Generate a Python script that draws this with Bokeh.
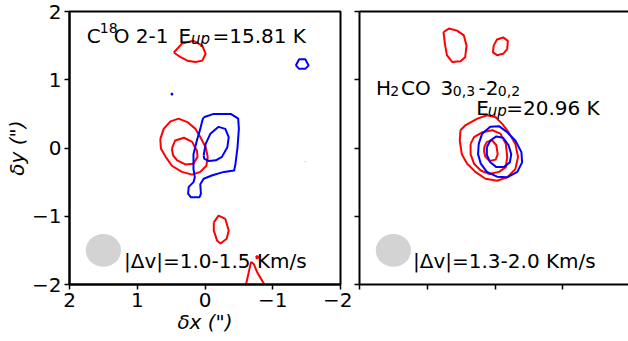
from bokeh.plotting import figure
from bokeh.layouts import row
from bokeh.models import Range1d, FixedTicker, LinearAxis, Label, CustomLabelingPolicy
from bokeh.embed import file_html
from bokeh.resources import INLINE

FONT = "DejaVu Sans"

# ---------------- data ----------------
tick_vals = [2, 1, 0, -1, -2]
tick_labels = ["2", "1", "0", "−1", "−2"]

# beam (arcsec)
beam_x = [1.5]
beam_y = [-1.5]
beam_w = [0.52]
beam_h = [0.48]

# --- Left panel: C18O 2-1, redshifted contours ---
c18o_red_top_x = [0.46, 0.34, 0.17, 0.04, -0.01, 0.04, 0.14, 0.26, 0.36, 0.46]
c18o_red_top_y = [1.40, 1.53, 1.57, 1.50, 1.38, 1.28, 1.26, 1.28, 1.33, 1.40]
c18o_red_outer_x = [0.66, 0.61, 0.51, 0.39, 0.26, 0.14, 0.07, -0.01, -0.04, -0.02, 0.07, 0.19, 0.34, 0.49, 0.58, 0.65, 0.66]
c18o_red_outer_y = [0.13, 0.28, 0.39, 0.43, 0.38, 0.28, 0.16, 0.01, -0.13, -0.26, -0.35, -0.39, -0.35, -0.26, -0.13, -0.01, 0.13]
c18o_red_inner_x = [0.49, 0.44, 0.31, 0.19, 0.12, 0.11, 0.17, 0.29, 0.41, 0.47, 0.49]
c18o_red_inner_y = [-0.01, 0.11, 0.15, 0.09, -0.04, -0.13, -0.23, -0.24, -0.18, -0.11, -0.01]
c18o_red_low_x = [-0.13, -0.20, -0.30, -0.35, -0.32, -0.23, -0.18, -0.13, -0.13]
c18o_red_low_y = [-1.09, -0.99, -1.04, -1.21, -1.33, -1.40, -1.36, -1.21, -1.09]
c18o_red_edge_x = [-0.60, -0.61, -0.65, -0.68, -0.72, -0.77, -0.87, -0.90]
c18o_red_edge_y = [-2.05, -1.98, -1.80, -1.67, -1.70, -1.82, -1.99, -2.05]
c18o_red_dot_x = [-0.75, -0.77, -0.79, -0.77, -0.75]
c18o_red_dot_y = [-1.60, -1.58, -1.60, -1.62, -1.60]
c18o_red_speck_x = [-1.47, -1.49]
c18o_red_speck_y = [-0.20, -0.20]

# --- Left panel: C18O 2-1, blueshifted contours ---
c18o_blue_outer_x = [0.02, -0.13, -0.38, -0.49, -0.50, -0.48, -0.45, -0.43, -0.28, -0.11, 0.02, 0.07, 0.06,
                     0.08, 0.21, 0.25, 0.24, 0.17, 0.15, 0.17, 0.17, 0.12, 0.07, 0.04, 0.02]
c18o_blue_outer_y = [0.45, 0.50, 0.50, 0.43, 0.28, 0.01, -0.23, -0.33, -0.35, -0.40, -0.45, -0.53, -0.67,
                     -0.72, -0.72, -0.67, -0.57, -0.50, -0.43, -0.31, -0.09, 0.11, 0.28, 0.40, 0.45]
c18o_blue_inner_x = [0.02, -0.01, -0.08, -0.20, -0.30, -0.35, -0.33, -0.25, -0.16, -0.06, 0.01, 0.02]
c18o_blue_inner_y = [-0.11, 0.06, 0.21, 0.31, 0.28, 0.16, 0.01, -0.13, -0.18, -0.19, -0.16, -0.11]
c18o_blue_corner_x = [-1.34, -1.39, -1.48, -1.53, -1.48, -1.39, -1.34]
c18o_blue_corner_y = [1.21, 1.30, 1.30, 1.21, 1.16, 1.16, 1.21]
c18o_blue_dot_x = [0.50, 0.49, 0.48, 0.49, 0.50]
c18o_blue_dot_y = [0.79, 0.80, 0.79, 0.78, 0.79]

# --- Right panel: H2CO 3(0,3)-2(0,2), redshifted contours ---
h2co_red_a_x = [0.76, 0.68, 0.56, 0.46, 0.42, 0.44, 0.51, 0.63, 0.71, 0.74, 0.76]
h2co_red_a_y = [1.70, 1.75, 1.72, 1.65, 1.50, 1.33, 1.27, 1.26, 1.36, 1.53, 1.70]
h2co_red_b_x = [0.02, -0.03, -0.12, -0.19, -0.18, -0.12, -0.03, 0.03, 0.02]
h2co_red_b_y = [1.50, 1.59, 1.62, 1.57, 1.45, 1.38, 1.36, 1.40, 1.50]
h2co_red_outer_x = [0.51, 0.44, 0.26, 0.12, -0.01, -0.11, -0.20, -0.30, -0.34, -0.30, -0.18, -0.03, 0.14,
                    0.29, 0.41, 0.49, 0.52, 0.51]
h2co_red_outer_y = [0.26, 0.33, 0.43, 0.48, 0.45, 0.35, 0.23, 0.06, -0.13, -0.31, -0.43, -0.48, -0.45,
                    -0.35, -0.23, -0.09, 0.11, 0.26]
h2co_red_mid_x = [0.36, 0.31, 0.19, 0.04, -0.08, -0.16, -0.18, -0.16, -0.06, 0.09, 0.21, 0.31, 0.36, 0.36]
h2co_red_mid_y = [0.06, 0.16, 0.23, 0.26, 0.21, 0.06, -0.13, -0.28, -0.35, -0.38, -0.33, -0.23, -0.09, 0.06]
h2co_red_inner_x = [0.16, 0.12, 0.04, -0.02, -0.04, -0.01, 0.08, 0.14, 0.16, 0.16]
h2co_red_inner_y = [0.01, 0.09, 0.11, 0.04, -0.09, -0.17, -0.19, -0.13, -0.06, 0.01]

# --- Right panel: H2CO, blueshifted contours ---
h2co_blue_outer_x = [0.24, 0.19, 0.07, -0.06, -0.18, -0.30, -0.39, -0.40, -0.33, -0.18, -0.03, 0.12, 0.21, 0.25, 0.24]
h2co_blue_outer_y = [0.06, 0.21, 0.31, 0.32, 0.23, 0.11, -0.06, -0.21, -0.35, -0.43, -0.42, -0.35, -0.23, -0.09, 0.06]
h2co_blue_inner_x = [0.12, 0.07, -0.02, -0.12, -0.20, -0.24, -0.22, -0.13, -0.02, 0.07, 0.12, 0.12]
h2co_blue_inner_y = [0.01, 0.11, 0.17, 0.15, 0.04, -0.09, -0.21, -0.28, -0.28, -0.21, -0.10, 0.01]

# ---------------- helpers ----------------
NO_LABELS = CustomLabelingPolicy(code="""
for (const i of Array.from(indices)) { indices.unset(i) }
return indices
""")


def style_axis(ax, show_labels):
    ax.ticker = FixedTicker(ticks=tick_vals)
    ax.major_tick_out = 5
    ax.major_tick_in = 0
    ax.minor_tick_out = 0
    ax.minor_tick_in = 0
    ax.major_tick_line_width = 1.5
    ax.major_tick_line_color = "black"
    ax.axis_line_width = 2
    ax.axis_line_color = "black"
    ax.major_label_text_font = FONT
    ax.major_label_text_color = "black"
    ax.major_label_text_font_size = "20px"
    ax.axis_label_text_font = FONT
    ax.axis_label_text_color = "black"
    ax.axis_label_text_font_size = "20px"
    ax.axis_label_text_font_style = "italic"
    ax.axis_label_standoff = 0
    if show_labels:
        ax.major_label_standoff = 3
        ax.major_label_overrides = {v: s for v, s in zip(tick_vals, tick_labels)}
    else:
        ax.major_label_standoff = 0
        ax.major_label_overrides = {v: "" for v in tick_vals}
        ax.major_label_policy = NO_LABELS


def add_text(p, x, y, text, size="20px", style="normal"):
    p.add_layout(Label(x=x, y=y, text=text, text_font=FONT, text_font_size=size,
                       text_font_style=style, text_color="black",
                       text_align="left", text_baseline="alphabetic"))


def make_fig(xr, fw, mbl, mbr):
    p = figure(x_range=xr, y_range=Range1d(-2, 2), frame_width=fw, frame_height=273,
               min_border_left=mbl, min_border_right=mbr, min_border_top=11, min_border_bottom=57,
               output_backend="svg", toolbar_location=None, tools="")
    p.xgrid.grid_line_color = None
    p.ygrid.grid_line_color = None
    p.background_fill_color = "white"
    p.border_fill_color = "white"
    return p

# ---------------- left panel ----------------
p1 = make_fig(Range1d(2, -2), 271, 69, 12)
p1.outline_line_color = "black"
p1.outline_line_width = 2
style_axis(p1.xaxis[0], True)
style_axis(p1.yaxis[0], True)
p1.xaxis[0].axis_label = "δx (\")"
p1.yaxis[0].axis_label = "δy (\")"

p1.ellipse(x=beam_x, y=beam_y, width=beam_w, height=beam_h, fill_color="#d3d3d3", line_color=None)
p1.multi_line(xs=[c18o_red_top_x, c18o_red_outer_x, c18o_red_inner_x, c18o_red_low_x, c18o_red_edge_x, c18o_red_dot_x],
              ys=[c18o_red_top_y, c18o_red_outer_y, c18o_red_inner_y, c18o_red_low_y, c18o_red_edge_y, c18o_red_dot_y],
              line_color="red", line_width=2)
p1.line(x=c18o_red_speck_x, y=c18o_red_speck_y, line_color="red", line_alpha=0.35, line_width=1)
p1.multi_line(xs=[c18o_blue_outer_x, c18o_blue_inner_x, c18o_blue_corner_x, c18o_blue_dot_x],
              ys=[c18o_blue_outer_y, c18o_blue_inner_y, c18o_blue_corner_y, c18o_blue_dot_y],
              line_color="blue", line_width=2)

add_text(p1, 1.746, 1.648, "C")
add_text(p1, 1.553, 1.761, "18", size="14px")
add_text(p1, 1.348, 1.648, "O 2-1")
add_text(p1, 0.391, 1.648, "E")
add_text(p1, 0.207, 1.604, "up", size="15px", style="italic")
add_text(p1, -0.110, 1.648, "=15.81 K")
add_text(p1, 1.196, -1.663, "|Δv|=1.0-1.5 Km/s")

# ---------------- right panel ----------------
p2 = make_fig(Range1d(2, 2 - 4 * 269 / 271), 269, 7, 0)
p2.outline_line_color = None
style_axis(p2.xaxis[0], False)
style_axis(p2.yaxis[0], False)
top_axis = LinearAxis(ticker=FixedTicker(ticks=[]), axis_line_width=2, axis_line_color="black",
                      major_tick_out=0, major_tick_in=0, minor_tick_out=0, minor_tick_in=0,
                      major_label_standoff=0)
p2.add_layout(top_axis, "above")

p2.ellipse(x=beam_x, y=beam_y, width=beam_w, height=beam_h, fill_color="#d3d3d3", line_color=None)
p2.multi_line(xs=[h2co_red_a_x, h2co_red_b_x, h2co_red_outer_x, h2co_red_mid_x, h2co_red_inner_x],
              ys=[h2co_red_a_y, h2co_red_b_y, h2co_red_outer_y, h2co_red_mid_y, h2co_red_inner_y],
              line_color="red", line_width=2)
p2.multi_line(xs=[h2co_blue_outer_x, h2co_blue_inner_x],
              ys=[h2co_blue_outer_y, h2co_blue_inner_y],
              line_color="blue", line_width=2)

add_text(p2, 1.758, 0.872, "H")
add_text(p2, 1.547, 0.828, "2", size="14px")
add_text(p2, 1.386, 0.872, "CO")
add_text(p2, 0.804, 0.872, "3")
add_text(p2, 0.623, 0.828, "0,3", size="14px")
add_text(p2, 0.244, 0.872, "-2")
add_text(p2, -0.041, 0.828, "0,2", size="14px")
add_text(p2, 0.277, 0.589, "E")
add_text(p2, 0.106, 0.549, "up", size="15px", style="italic")
add_text(p2, -0.166, 0.589, "=20.96 K")
add_text(p2, 1.21, -1.663, "|Δv|=1.3-2.0 Km/s")

layout = row(p1, p2)
open("out.html", "w").write(file_html(layout, INLINE))
